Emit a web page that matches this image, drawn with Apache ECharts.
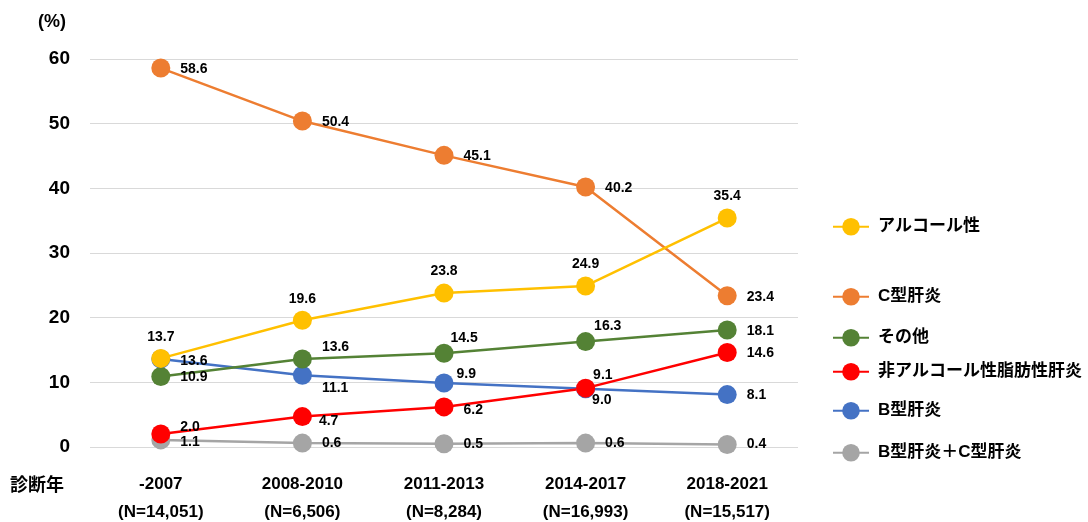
<!DOCTYPE html>
<html>
<head>
<meta charset="utf-8">
<script src="https://cdn.jsdelivr.net/npm/echarts@6/dist/echarts.min.js"></script>
<style>
  html, body { margin: 0; padding: 0; background: #fff; }
  #chart { width: 1088px; height: 522px; }
</style>
</head>
<body>
<div id="chart"></div>
<script>
// 診断年カテゴリ
const periods = ['-2007', '2008-2010', '2011-2013', '2014-2017', '2018-2021'];
const counts = ['(N=14,051)', '(N=6,506)', '(N=8,284)', '(N=16,993)', '(N=15,517)'];

// 各成因の割合 (%)
const hcv = [58.6, 50.4, 45.1, 40.2, 23.4];
const alcohol = [13.7, 19.6, 23.8, 24.9, 35.4];
const others = [10.9, 13.6, 14.5, 16.3, 18.1];
const nafld = [2.0, 4.7, 6.2, 9.1, 14.6];
const hbv = [13.6, 11.1, 9.9, 9.0, 8.1];
const hbvHcv = [1.1, 0.6, 0.5, 0.6, 0.4];

const yTicks = [0, 10, 20, 30, 40, 50, 60];

const FONT = '"Liberation Sans", "Noto Sans CJK JP", sans-serif';

// ラベル位置の微調整 [position, dx, dy]
const R = (dx, dy) => ['right', dx, dy];
const T = (dx, dy) => ['top', dx, dy + 5];
const labelPos = {
  hcv: [R(0, 1), R(0, 1), R(0, 1), R(0, 1), R(0, 1)],
  alcohol: [T(0, 0), T(0, 0), T(0, 0), T(0, 0), T(0, 0)],
  others: [R(0, 1), R(0, -12), R(-13, -15), R(-11, -15), R(0, 1)],
  nafld: [R(0, -7), R(-3, 5), R(0, 3), R(-12, -13), R(0, 1)],
  hbv: [R(0, 2), R(0, 13), R(-7, -9), R(-13, 11), R(0, 1)],
  hbvHcv: [R(0, 2), R(0, 0), R(0, 0), R(0, 0), R(0, 0)]
};

function makeData(values, pos) {
  return values.map((v, i) => ({
    value: v,
    label: { position: pos[i][0], offset: [pos[i][1], pos[i][2]] }
  }));
}

function makeSeries(name, values, pos, color) {
  return {
    name: name,
    type: 'line',
    data: makeData(values, pos),
    symbol: 'circle',
    symbolSize: 19,
    lineStyle: { color: color, width: 2.5 },
    itemStyle: { color: color },
    label: {
      show: true,
      distance: 10,
      color: '#000',
      fontFamily: FONT,
      fontWeight: 'bold',
      fontSize: 14,
      formatter: p => p.value.toFixed(1)
    },
    emphasis: { disabled: true },
    animation: false
  };
}

const seriesDefs = [
  { name: 'B型肝炎＋C型肝炎', values: hbvHcv, pos: labelPos.hbvHcv, color: '#A5A5A5', legendY: 452 },
  { name: 'B型肝炎', values: hbv, pos: labelPos.hbv, color: '#4472C4', legendY: 410 },
  { name: '非アルコール性脂肪性肝炎', values: nafld, pos: labelPos.nafld, color: '#FF0000', legendY: 371 },
  { name: 'その他', values: others, pos: labelPos.others, color: '#548235', legendY: 337 },
  { name: 'C型肝炎', values: hcv, pos: labelPos.hcv, color: '#ED7D31', legendY: 296 },
  { name: 'アルコール性', values: alcohol, pos: labelPos.alcohol, color: '#FFC000', legendY: 226 }
];

const chart = echarts.init(document.getElementById('chart'), null, { renderer: 'canvas' });

const option = {
  backgroundColor: '#fff',
  animation: false,
  grid: { left: 90, right: 290, top: 59, bottom: 75, outerBoundsMode: 'none', containLabel: false },
  xAxis: {
    type: 'category',
    data: periods.map((p, i) => p + '\n' + counts[i]),
    boundaryGap: true,
    axisLine: { show: false },
    axisTick: { show: false },
    axisLabel: {
      color: '#000',
      fontFamily: FONT,
      fontWeight: 'bold',
      fontSize: 17,
      lineHeight: 28,
      margin: 23
    }
  },
  yAxis: {
    type: 'value',
    min: yTicks[0],
    max: yTicks[yTicks.length - 1],
    interval: 10,
    axisLine: { show: false },
    axisTick: { show: false },
    splitLine: { lineStyle: { color: '#D9D9D9', width: 1 } },
    axisLabel: {
      color: '#000',
      fontFamily: FONT,
      fontWeight: 'bold',
      fontSize: 19,
      margin: 20
    }
  },
  legend: seriesDefs.map(d => ({
    data: [d.name],
    left: 832,
    top: d.legendY - 8,
    padding: 0,
    itemWidth: 36,
    itemHeight: 22,
    itemGap: 0,
    textStyle: {
      color: '#000',
      fontFamily: FONT,
      fontWeight: 'bold',
      fontSize: 17,
      padding: [0, 0, 0, 4]
    },
    selectedMode: false
  })),
  graphic: [
    {
      type: 'text',
      left: 38,
      top: 13,
      style: { text: '(%)', fill: '#000', font: 'bold 18px ' + FONT }
    },
    {
      type: 'text',
      left: 10,
      top: 477,
      style: { text: '診断年', fill: '#000', font: 'bold 18px ' + FONT }
    }
  ],
  series: seriesDefs.map(d => makeSeries(d.name, d.values, d.pos, d.color))
};

chart.setOption(option);
</script>
</body>
</html>
